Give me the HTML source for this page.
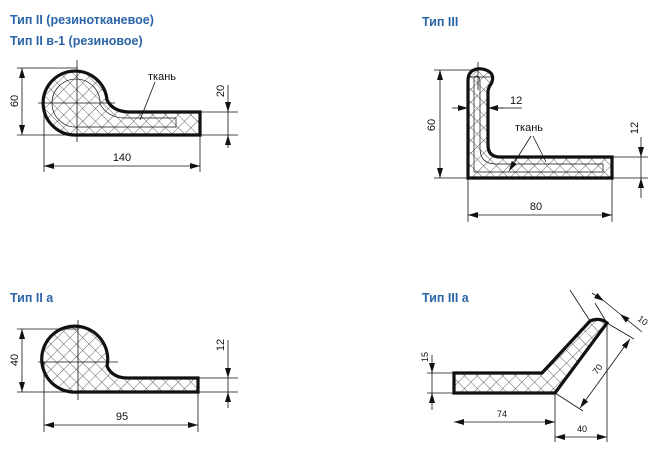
<!DOCTYPE html>
<html><head><meta charset="utf-8"><style>
html,body{margin:0;padding:0;background:#fff;}
svg{display:block;}
.h{font-family:"Liberation Sans",sans-serif;font-weight:bold;font-size:12.5px;fill:#2a64a8;}
.t{font-family:"Liberation Sans",sans-serif;font-size:11px;fill:#111;}
.s{font-family:"Liberation Sans",sans-serif;font-size:9px;fill:#111;}
.d{stroke:#111;stroke-width:0.8;fill:none;}
.o{stroke:#111;stroke-width:3.2;fill:url(#hx);stroke-linejoin:miter;}
.i{stroke:#111;stroke-width:0.7;fill:none;}
</style></head><body>
<svg width="658" height="465" viewBox="0 0 658 465" xmlns="http://www.w3.org/2000/svg">
<defs>
<pattern id="hx" width="9" height="9" patternUnits="userSpaceOnUse" patternTransform="rotate(45)">
<rect width="9" height="9" fill="#fff"/>
<path d="M0 0H9M0 0V9" stroke="#333" stroke-width="0.75"/>
</pattern>
<marker id="a" viewBox="0 0 10 6" refX="10" refY="3" markerWidth="10" markerHeight="6" orient="auto-start-reverse" markerUnits="userSpaceOnUse">
<path d="M0 0L10 3L0 6Z" fill="#111"/></marker>
</defs>

<text class="h" x="10" y="24">Тип II (резинотканевое)</text>
<text class="h" x="10" y="45">Тип II в-1 (резиновое)</text>
<text class="h" x="422" y="26">Тип III</text>
<text class="h" x="10" y="302">Тип II а</text>
<text class="h" x="422" y="302">Тип III а</text>

<!-- Type II -->
<path class="o" d="M77 135L200 135L200 112L130 112Q113 112 107 100A32 32 0 1 0 77 135Z"/>
<path class="i" d="M78 127L176 127L176 118L125 118Q108 118 100 104A24 24 0 1 0 78 127"/>
<path class="d" d="M77 60V142M38 103H115M17 68H77M17 135H77M200 112H238M200 135H238M44 103V172M200 135V172"/>
<path class="d" d="M22 68V135" marker-start="url(#a)" marker-end="url(#a)"/>
<path class="d" d="M44 166H200" marker-start="url(#a)" marker-end="url(#a)"/>
<path class="d" d="M228 85V112" marker-end="url(#a)"/><path class="d" d="M228 148V135" marker-end="url(#a)"/>
<path class="d" d="M228 112V135"/>
<path class="d" d="M155 82L140 120"/>
<text class="t" transform="translate(18,101) rotate(-90)" text-anchor="middle">60</text>
<text class="t" x="122" y="161" text-anchor="middle">140</text>
<text class="t" transform="translate(224,91) rotate(-90)" text-anchor="middle">20</text>
<text class="t" x="148" y="80">ткань</text>

<!-- Type II a -->
<path class="o" d="M78 392L198 392L198 378L128 378Q112 378 107 366A33 33 0 1 0 78 392Z"/>
<path class="d" d="M78 320V400M38 362H118M17 329H78M17 392H78M198 378H238M198 392H238M44 362V432M198 392V432"/>
<path class="d" d="M22 329V392" marker-start="url(#a)" marker-end="url(#a)"/>
<path class="d" d="M44 425H198" marker-start="url(#a)" marker-end="url(#a)"/>
<path class="d" d="M228 340V378" marker-end="url(#a)"/><path class="d" d="M228 408V392" marker-end="url(#a)"/>
<path class="d" d="M228 378V392"/>
<text class="t" transform="translate(18,360) rotate(-90)" text-anchor="middle">40</text>
<text class="t" x="122" y="420" text-anchor="middle">95</text>
<text class="t" transform="translate(224,345) rotate(-90)" text-anchor="middle">12</text>

<!-- Type III -->
<path class="o" d="M468 178L612 178L612 157L500 157Q488 157 488 145L488 92Q488 88 491 84Q496 74 486 70Q478 67 472 71Q468 74 468 80Z"/>
<path class="i" d="M474 172L603 172L603 164L496 164Q480 164 480 148L480 82Q480 76 476 76Q474 76 474 80Z"/>
<path class="d" d="M478 62V90M470 77H494M434 70H478M434 178H468M612 157H648M612 178H648M468 178V222M612 178V222M488 108H522"/>
<path class="d" d="M440 70V178" marker-start="url(#a)" marker-end="url(#a)"/>
<path class="d" d="M452 108H468" marker-end="url(#a)"/><path class="d" d="M504 108H488" marker-end="url(#a)"/>
<path class="d" d="M468 215H612" marker-start="url(#a)" marker-end="url(#a)"/>
<path class="d" d="M641 137V157" marker-end="url(#a)"/><path class="d" d="M641 198V178" marker-end="url(#a)"/>
<path class="d" d="M641 157V178"/>
<path class="d" d="M531 136L509 171" marker-end="url(#a)"/><path class="d" d="M533 136L546 162"/>
<text class="t" transform="translate(435,125) rotate(-90)" text-anchor="middle">60</text>
<text class="t" x="510" y="104">12</text>
<text class="t" x="536" y="210" text-anchor="middle">80</text>
<text class="t" transform="translate(638,128) rotate(-90)" text-anchor="middle">12</text>
<text class="t" x="515" y="131">ткань</text>

<!-- Type III a -->
<path class="o" d="M454 373L542 373L590 321Q600 317 607 323L555 393L454 393Z"/>
<path class="d" d="M427 373H454M427 393H454M607 323V442M555 393V442M555 393L583 411M607 323L634 339M590 321L570 290M607 323L595 303"/>
<path class="d" d="M432 355V373" marker-end="url(#a)"/><path class="d" d="M432 410V393" marker-end="url(#a)"/>
<path class="d" d="M432 373V393"/>
<path class="d" d="M454 422H555" marker-start="url(#a)" marker-end="url(#a)"/>
<path class="d" d="M555 437H607" marker-start="url(#a)" marker-end="url(#a)"/>
<path class="d" d="M580 408L630 339" marker-start="url(#a)" marker-end="url(#a)"/>
<path class="d" d="M592 293L604 301" marker-end="url(#a)"/><path class="d" d="M642 332L620 314" marker-end="url(#a)"/>
<path class="d" d="M604 301L620 314"/>
<text class="s" transform="translate(428,357) rotate(-90)" text-anchor="middle">15</text>
<text class="s" x="502" y="417" text-anchor="middle">74</text>
<text class="s" x="582" y="432" text-anchor="middle">40</text>
<text class="s" transform="translate(600,371) rotate(-54)" text-anchor="middle">70</text>
<text class="s" transform="translate(641,323) rotate(36)" text-anchor="middle">10</text>
</svg>
</body></html>
